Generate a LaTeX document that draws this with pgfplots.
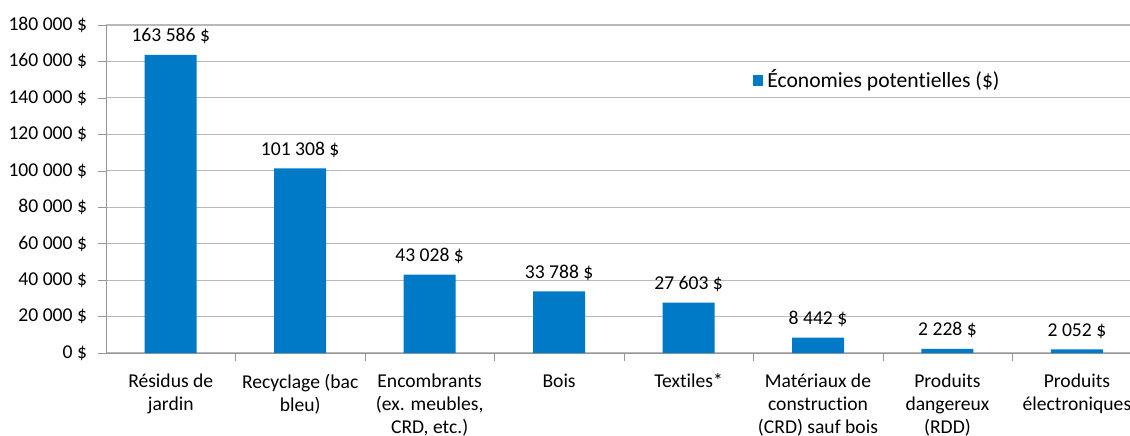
\documentclass[border=0pt]{standalone}
\usepackage{pgfplots}
\pgfplotsset{compat=1.18}
\usepackage{fontspec}
\setmainfont{Carlito}[Ligatures={NoCommon}]
\definecolor{barblue}{RGB}{0,122,198}
\definecolor{gridgray}{RGB}{185,185,185}
\definecolor{axisgray}{RGB}{150,150,150}
\begin{document}
\begin{tikzpicture}
\useasboundingbox (0,0) rectangle (565pt,217.5pt);
\begin{axis}[
  at={(53pt,41pt)}, anchor=south west,
  scale only axis, width=512pt, height=164pt,
  font=\fontsize{9.8}{11.5}\selectfont,
  xmin=-0.5, xmax=7.41, ymin=0, ymax=180000,
  scaled y ticks=false,
  axis x line=bottom, axis y line=left,
  axis line style={axisgray, -},
  ybar, bar width=26pt,
  ytick={0,20000,...,180000},
  yticklabels={0 \$,20 000 \$,40 000 \$,60 000 \$,80 000 \$,100 000 \$,120 000 \$,140 000 \$,160 000 \$,180 000 \$},
  ymajorgrids, major grid style={gridgray, line width=0.6pt},
  ytick align=outside, ytick style={axisgray}, major tick length=4pt,
  xtick={0,...,7},
  xticklabels={{Résidus de\\jardin},{Recyclage (bac\\bleu)},{Encombrants\\(ex. meubles,\\CRD, etc.)},{Bois},{Textiles*},{Matériaux de\\construction\\(CRD) sauf bois},{Produits\\dangereux\\(RDD)},{Produits\\électroniques}},
  xticklabel style={align=center, yshift=-3pt},
  x tick style={draw=none},
  minor xtick={0.5,1.5,...,6.5},
  minor x tick style={axisgray, draw=axisgray},
  minor tick length=4pt,
  xtick align=outside,
  yticklabel style={xshift=-2pt},
  nodes near coords, point meta=explicit symbolic,
  nodes near coords style={font=\fontsize{9.8}{11.5}\selectfont, anchor=south, yshift=2pt},
  legend style={at={(0.631,0.832)}, anchor=west, draw=none, fill=none, font=\fontsize{10.8}{12}\selectfont, inner sep=0pt},
  legend image code/.code={\fill[barblue] (0cm,-0.095cm) rectangle (0.19cm,0.095cm);},
]
\addplot[fill=barblue, draw=none] coordinates {
  (0,163586) [163 586 \$]
  (1,101308) [101 308 \$]
  (2,43028) [43 028 \$]
  (3,33788) [33 788 \$]
  (4,27603) [27 603 \$]
  (5,8442) [8 442 \$]
  (6,2228) [2 228 \$]
  (7,2052) [2 052 \$]
};
\addlegendentry{Économies potentielles (\$)}
\end{axis}
\end{tikzpicture}
\end{document}
